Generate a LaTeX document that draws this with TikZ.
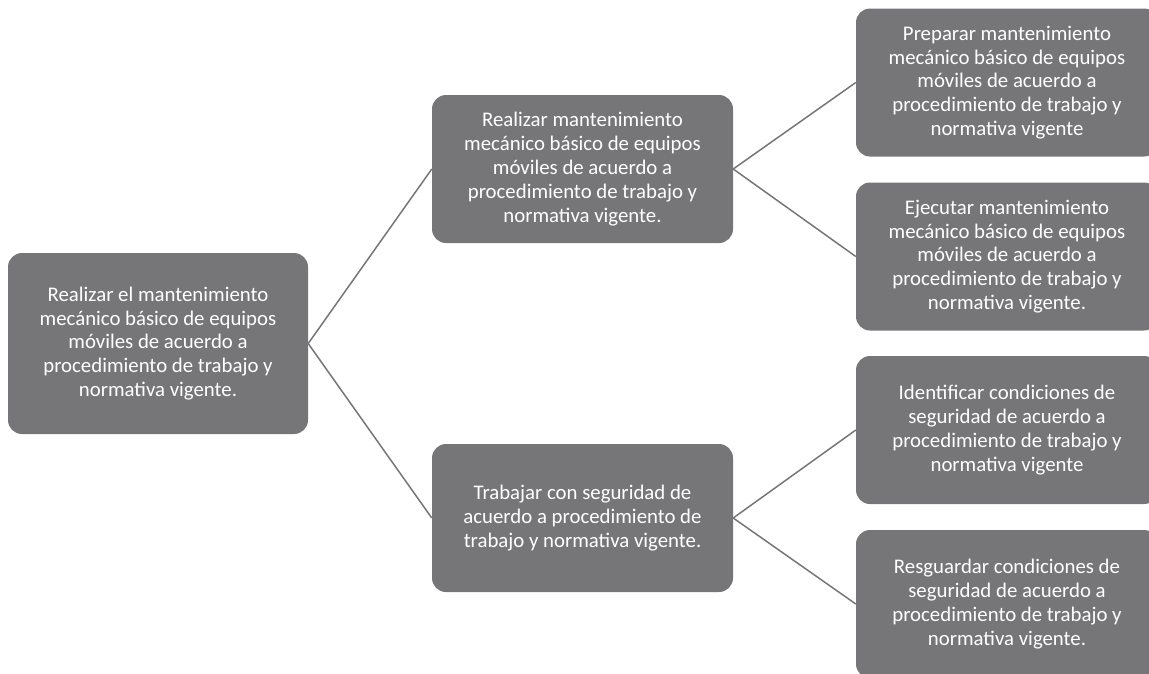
\documentclass[tikz,border=0pt]{standalone}
\usepackage{fontspec}
\setmainfont{Carlito}
\definecolor{boxgray}{RGB}{118,118,121}
\definecolor{linegray}{RGB}{118,118,121}
\begin{document}
\begin{tikzpicture}[x=1pt,y=-1pt,
  box/.style={draw=none,fill=boxgray,rounded corners=14pt,text=white,align=center,
    inner sep=0pt,font=\fontsize{20.8}{23.8}\selectfont},
  rootbox/.style={box,minimum width=300pt,minimum height=181pt},
  midbox/.style={box,minimum width=301pt,minimum height=148pt},
  leafbox/.style={box,minimum width=302pt,minimum height=148pt},
  conn/.style={draw=linegray,line width=1.5pt}]
\useasboundingbox (0,0) rectangle (1149,673);
\clip (0,0) rectangle (1149,673);
\node[rootbox] (root) at (158,343.5) {Realizar el mantenimiento\\mecánico básico de equipos\\móviles de acuerdo a\\procedimiento de trabajo y\\normativa vigente.};
\node[midbox] (m1) at (582.5,169) {Realizar mantenimiento\\mecánico básico de equipos\\móviles de acuerdo a\\procedimiento de trabajo y\\normativa vigente.};
\node[midbox] (m2) at (582.5,518) {Trabajar con seguridad de\\acuerdo a procedimiento de\\trabajo y normativa vigente.};
\node[leafbox] (l1) at (1007,82.5) {Preparar mantenimiento\\mecánico básico de equipos\\móviles de acuerdo a\\procedimiento de trabajo y\\normativa vigente};
\node[leafbox] (l2) at (1007,256.5) {Ejecutar mantenimiento\\mecánico básico de equipos\\móviles de acuerdo a\\procedimiento de trabajo y\\normativa vigente.};
\node[leafbox] (l3) at (1007,430) {Identificar condiciones de\\seguridad de acuerdo a\\procedimiento de trabajo y\\normativa vigente};
\node[leafbox] (l4) at (1007,604) {Resguardar condiciones de\\seguridad de acuerdo a\\procedimiento de trabajo y\\normativa vigente.};
\draw[conn] (m1.west) -- (root.east) -- (m2.west);
\draw[conn] (l1.west) -- (m1.east) -- (l2.west);
\draw[conn] (l3.west) -- (m2.east) -- (l4.west);
\end{tikzpicture}
\end{document}
